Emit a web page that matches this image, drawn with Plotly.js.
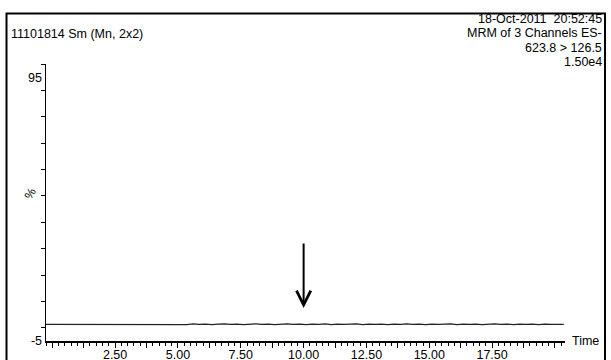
<!DOCTYPE html>
<html>
<head>
<meta charset="utf-8">
<script src="https://cdn.plot.ly/plotly-3.0.1.min.js"></script>
<style>
  html, body { margin: 0; padding: 0; background: #fff; }
  #chart { width: 611px; height: 360px; }
</style>
</head>
<body>
<div id="chart"></div>
<script>
// Retention time (min)
const times = [-0.25, 1.00, 2.00, 3.00, 4.00, 5.00,
  5.10, 5.35, 5.60, 5.85, 6.10, 6.35, 6.60, 6.85, 7.10, 7.35, 7.60, 7.85,
  8.10, 8.35, 8.60, 8.85, 9.10, 9.35, 9.60, 9.85, 10.10, 10.35, 10.60, 10.85,
  11.10, 11.35, 11.60, 11.85, 12.10, 12.35, 12.60, 12.85, 13.10, 13.35, 13.60, 13.85,
  14.10, 14.35, 14.60, 14.85, 15.10, 15.35, 15.60, 15.85, 16.10, 16.35, 16.60, 16.85,
  17.10, 17.35, 17.60, 17.85, 18.10, 18.35, 18.60, 18.85, 19.10, 19.35, 19.60, 19.85,
  20.10, 20.35];
// Relative intensity (%)
const intensity = [1.3, 1.3, 1.3, 1.3, 1.3, 1.3,
  1.4, 1.2, 1.5, 1.3, 1.4, 1.2, 1.4, 1.5, 1.3, 1.4, 1.2, 1.4,
  1.5, 1.3, 1.4, 1.2, 1.4, 1.5, 1.3, 1.4, 1.2, 1.4, 1.3, 1.5,
  1.2, 1.4, 1.3, 1.4, 1.5, 1.2, 1.4, 1.3, 1.4, 1.2, 1.4, 1.3,
  1.5, 1.3, 1.4, 1.2, 1.4, 1.3, 1.4, 1.5, 1.2, 1.4, 1.3, 1.4,
  1.2, 1.4, 1.5, 1.3, 1.4, 1.2, 1.4, 1.3, 1.4, 1.2, 1.4, 1.3,
  1.4, 1.3];

const xTickVals = [0, 1.25, 2.5, 3.75, 5, 6.25, 7.5, 8.75, 10, 11.25, 12.5, 13.75, 15, 16.25, 17.5, 18.75, 20];
const xTickText = ["", "", "2.50", "", "5.00", "", "7.50", "", "10.00", "", "12.50", "", "15.00", "", "17.50", "", ""];
const yTickVals = [-5, 95];
const yTickText = ["-5", "95"];
const yMinorVals = [0, 10, 20, 30, 40, 50, 60, 70, 80, 90, 100];

const headerRight = ["18-Oct-2011  20:52:45", "MRM of 3 Channels ES-", "623.8 > 126.5", "1.50e4"];
const headerLeft = "11101814 Sm (Mn, 2x2)";

const FONT = "Liberation Sans, Arial, sans-serif";
const L = 46, R = 46, T = 64, B = 19, W = 611, H = 360;
const pw = W - L - R, ph = H - T - B;
const px = v => (v - L) / pw;          // pixel x -> paper x
const py = v => (H - B - v) / ph;      // pixel y -> paper y

const trace = {
  x: times, y: intensity, type: "scatter", mode: "lines",
  line: { color: "#222", width: 1.2 }, hoverinfo: "skip"
};

const annotations = [];
headerRight.forEach((t, i) => {
  annotations.push({
    text: t, xref: "paper", yref: "paper", x: px(604), y: py(19 + i * 14.3),
    xanchor: "right", yanchor: "middle", showarrow: false,
    font: { family: FONT, size: 12.5, color: "#000" }
  });
});
annotations.push({
  text: headerLeft, xref: "paper", yref: "paper", x: px(9), y: py(34),
  xanchor: "left", yanchor: "middle", showarrow: false,
  font: { family: FONT, size: 12.5, color: "#000" }
});
annotations.push({
  text: "Time", xref: "paper", yref: "paper", x: px(570), y: py(341),
  xanchor: "left", yanchor: "middle", showarrow: false,
  font: { family: FONT, size: 12.5, color: "#000" }
});
annotations.push({
  text: "%", xref: "paper", yref: "paper", x: px(30), y: py(194),
  xanchor: "center", yanchor: "middle", showarrow: false, textangle: -60,
  font: { family: FONT, size: 12, color: "#000" }
});
// arrow marking the expected retention time
annotations.push({
  text: "", x: 10, y: 7.5, xref: "x", yref: "y",
  ax: 10, ay: 32.5, axref: "x", ayref: "y",
  showarrow: true, arrowhead: 5, arrowsize: 1.4, arrowwidth: 2, arrowcolor: "#000"
});

const layout = {
  width: W, height: H,
  margin: { l: L, r: R, t: T, b: B, pad: 0 },
  paper_bgcolor: "#fff", plot_bgcolor: "#fff",
  showlegend: false,
  font: { family: FONT, size: 12, color: "#000" },
  xaxis: {
    range: [-0.25, 20.4], showgrid: false, zeroline: false,
    showline: true, linecolor: "#000", linewidth: 1.5,
    tickmode: "array", tickvals: xTickVals, ticktext: xTickText,
    ticks: "outside", ticklen: 5, tickwidth: 1, tickcolor: "#000",
    ticklabelstandoff: -4,
    tickfont: { family: FONT, size: 12.5, color: "#000" },
    minor: { dtick: 0.25, tick0: 0, ticks: "outside", ticklen: 3, tickcolor: "#000", tickwidth: 1, showgrid: false }
  },
  yaxis: {
    range: [-5, 100], showgrid: false, zeroline: false,
    showline: true, linecolor: "#000", linewidth: 1.5,
    tickmode: "array", tickvals: yTickVals, ticktext: yTickText,
    ticks: "", ticklen: 0,
    tickfont: { family: FONT, size: 12.5, color: "#000" },
    minor: { tickmode: "array", tickvals: yMinorVals, ticks: "outside", ticklen: 4, tickcolor: "#000", tickwidth: 1, showgrid: false }
  },
  shapes: [{
    type: "rect", xref: "paper", yref: "paper",
    x0: px(6.5), x1: px(605), y0: py(375), y1: py(13.5),
    line: { color: "#000", width: 2 }, fillcolor: "rgba(0,0,0,0)", layer: "above"
  }],
  annotations: annotations
};

Plotly.newPlot("chart", [trace], layout, { staticPlot: true, displayModeBar: false });
</script>
</body>
</html>
